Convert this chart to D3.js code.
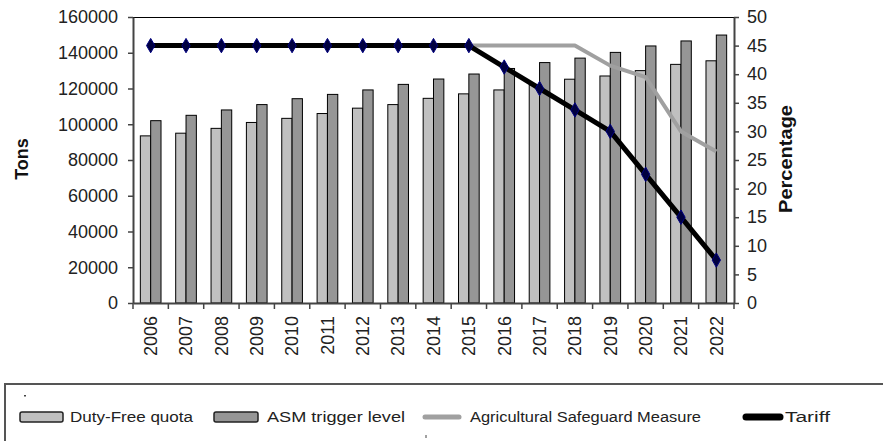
<!DOCTYPE html>
<html>
<head>
<meta charset="utf-8">
<script src="https://cdn.jsdelivr.net/npm/d3@7"></script>
<style>
  html, body { margin: 0; padding: 0; background: #fff; }
  svg { display: block; font-family: "Liberation Sans", Arial, sans-serif; }
</style>
</head>
<body>
<svg id="chart" width="883" height="441"></svg>
<script>
// Years on the category axis
const years = ["2006","2007","2008","2009","2010","2011","2012","2013","2014","2015",
               "2016","2017","2018","2019","2020","2021","2022"];
// Tons (left axis)
const dutyFreeQuota = [93500, 95000, 97700, 101000, 103300, 106000, 109000, 111000, 114500,
                       117000, 119200, 122000, 125200, 127000, 130000, 133500, 135500];
const asmTriggerLevel = [102000, 105000, 108000, 111000, 114300, 116700, 119200, 122300, 125300,
                         128100, 131200, 134500, 137000, 140200, 143800, 146600, 149900];
// Percentage (right axis)
const safeguardMeasure = [45, 45, 45, 45, 45, 45, 45, 45, 45, 45, 45, 45, 45, 41.5, 39.5, 30, 26.5];
const tariff = [45, 45, 45, 45, 45, 45, 45, 45, 45, 45, 41.25, 37.5, 33.75, 30, 22.5, 15, 7.5];
// Axis ticks
const tonsTicks = [0, 20000, 40000, 60000, 80000, 100000, 120000, 140000, 160000];
const pctTicks = [0, 5, 10, 15, 20, 25, 30, 35, 40, 45, 50];
const legendLabels = ["Duty-Free quota", "ASM trigger level", "Agricultural Safeguard Measure", "Tariff"];

const svg = d3.select("#chart");
const plot = { left: 133, right: 734, top: 17, bottom: 303 };

const x = d3.scaleBand().domain(years).range([plot.left, plot.right]).paddingInner(0).paddingOuter(0);
const xs = d3.scaleBand().domain(["dfq", "asm"]).range([0, x.bandwidth()]).paddingInner(0).paddingOuter(0.71);
const yTons = d3.scaleLinear().domain([0, 160000]).range([plot.bottom, plot.top]);
const yPct = d3.scaleLinear().domain([0, 50]).range([plot.bottom, plot.top]);

// Plot frame top line
svg.append("line")
  .attr("x1", plot.left).attr("x2", plot.right)
  .attr("y1", plot.top + 0.5).attr("y2", plot.top + 0.5)
  .attr("stroke", "#000").attr("stroke-width", 1);

// Bars
const groups = svg.append("g").selectAll("g").data(years).join("g")
  .attr("transform", d => `translate(${x(d)},0)`);
groups.append("rect")
  .attr("x", xs("dfq")).attr("width", xs.bandwidth())
  .attr("y", (d, i) => yTons(dutyFreeQuota[i]))
  .attr("height", (d, i) => plot.bottom - yTons(dutyFreeQuota[i]))
  .attr("fill", "#c0c0c0").attr("stroke", "#000").attr("stroke-width", 1);
groups.append("rect")
  .attr("x", xs("asm")).attr("width", xs.bandwidth())
  .attr("y", (d, i) => yTons(asmTriggerLevel[i]))
  .attr("height", (d, i) => plot.bottom - yTons(asmTriggerLevel[i]))
  .attr("fill", "#969696").attr("stroke", "#000").attr("stroke-width", 1);

// Lines
const cx = d => x(d) + x.bandwidth() / 2;
const line = d3.line().x(d => cx(d.year)).y(d => yPct(d.v));
svg.append("path")
  .datum(years.map((y, i) => ({ year: y, v: safeguardMeasure[i] })))
  .attr("d", line).attr("fill", "none")
  .attr("stroke", "#a0a0a0").attr("stroke-width", 4).attr("stroke-linejoin", "round");
const tariffData = years.map((y, i) => ({ year: y, v: tariff[i] }));
svg.append("path")
  .datum(tariffData)
  .attr("d", line).attr("fill", "none")
  .attr("stroke", "#000").attr("stroke-width", 5).attr("stroke-linejoin", "round");
svg.append("g").selectAll("path").data(tariffData).join("path")
  .attr("d", d3.symbol().type(d3.symbolDiamond).size(60))
  .attr("transform", d => `translate(${cx(d.year)},${yPct(d.v)})`)
  .attr("fill", "#000040").attr("stroke", "#000080").attr("stroke-width", 1);

// Axes
const axisStyle = g => {
  g.selectAll(".domain").attr("stroke", "#444").attr("stroke-width", 2);
  g.selectAll(".tick line").attr("stroke", "#444").attr("stroke-width", 1.5);
  g.selectAll("text").attr("fill", "#222").style("font-size", "18px");
};
svg.append("g").attr("transform", `translate(${plot.left},0)`)
  .call(d3.axisLeft(yTons).tickValues(tonsTicks).tickSize(5).tickSizeOuter(0).tickPadding(10).tickFormat(d3.format("d")))
  .call(axisStyle);
svg.append("g").attr("transform", `translate(${plot.right},0)`)
  .call(d3.axisRight(yPct).tickValues(pctTicks).tickSize(5).tickSizeOuter(0).tickPadding(8).tickFormat(d3.format("d")))
  .call(axisStyle);

const xAxis = svg.append("g").attr("transform", `translate(0,${plot.bottom})`)
  .call(d3.axisBottom(x).tickSize(0).tickSizeOuter(0))
  .call(axisStyle);
xAxis.selectAll(".tick text")
  .attr("transform", "rotate(-90)")
  .attr("x", -13).attr("y", 0).attr("dy", "0.35em")
  .attr("text-anchor", "end");
// Category separators below the axis
xAxis.append("g").selectAll("line").data(years.concat(["end"])).join("line")
  .attr("x1", (d, i) => plot.left + i * x.step()).attr("x2", (d, i) => plot.left + i * x.step())
  .attr("y1", 0).attr("y2", 6).attr("stroke", "#444").attr("stroke-width", 1.5);

// Axis titles
svg.append("text").text("Tons")
  .attr("transform", "translate(28,159) rotate(-90)")
  .attr("text-anchor", "middle").style("font-size", "18px").style("font-weight", "bold").attr("fill", "#111");
svg.append("text").text("Percentage")
  .attr("transform", "translate(792,159) rotate(-90)")
  .attr("text-anchor", "middle").style("font-size", "18px").style("font-weight", "bold").attr("fill", "#111")
  .attr("textLength", 108).attr("lengthAdjust", "spacingAndGlyphs");

// Legend
const legend = svg.append("g");
legend.append("rect").attr("x", 5).attr("y", 384).attr("width", 900).attr("height", 100)
  .attr("fill", "none").attr("stroke", "#555").attr("stroke-width", 2);
legend.append("rect").attr("x", 24).attr("y", 395).attr("width", 2).attr("height", 1.5).attr("fill", "#444");
const legendItems = [
  { kind: "box", fill: "#c0c0c0", sx: 20, sw: 43, tx: 70, tw: 123 },
  { kind: "box", fill: "#969696", sx: 214, sw: 44, tx: 267, tw: 138 },
  { kind: "line", color: "#a0a0a0", sx: 425, sw: 34, tx: 470, tw: 231, lw: 5 },
  { kind: "line", color: "#000", sx: 746, sw: 34, tx: 785, tw: 45, lw: 7 }
];
legendItems.forEach((it, i) => {
  if (it.kind === "box") {
    legend.append("rect").attr("x", it.sx).attr("y", 412).attr("width", it.sw).attr("height", 10)
      .attr("rx", 2).attr("fill", it.fill).attr("stroke", "#222").attr("stroke-width", 1.5);
  } else {
    legend.append("line").attr("x1", it.sx).attr("x2", it.sx + it.sw).attr("y1", 417).attr("y2", 417)
      .attr("stroke", it.color).attr("stroke-width", it.lw).attr("stroke-linecap", "round");
  }
  legend.append("text").text(legendLabels[i])
    .attr("x", it.tx).attr("y", 417).attr("dy", "0.35em")
    .attr("textLength", it.tw).attr("lengthAdjust", "spacingAndGlyphs")
    .style("font-size", "14px").attr("fill", "#222");
});
legend.append("line").attr("x1", 426).attr("x2", 426).attr("y1", 435).attr("y2", 438)
  .attr("stroke", "#444").attr("stroke-width", 1);
</script>
</body>
</html>
